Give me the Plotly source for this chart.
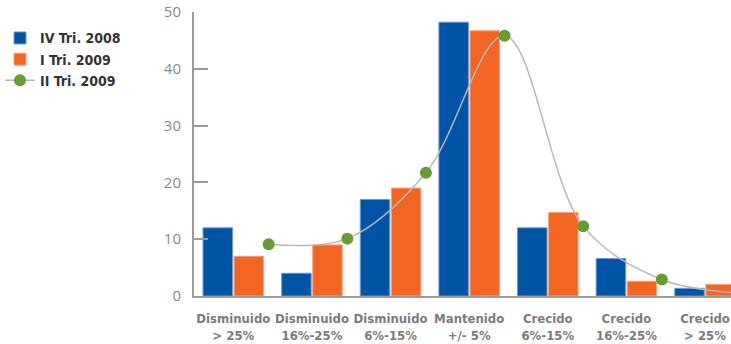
import numpy as np
import plotly.graph_objects as go

categories = ["Disminuido<br>> 25%", "Disminuido<br>16%-25%", "Disminuido<br>6%-15%",
              "Mantenido<br>+/- 5%", "Crecido<br>6%-15%", "Crecido<br>16%-25%", "Crecido<br>> 25%"]
iv_tri_2008 = [12, 4, 17, 48.2, 12, 6.6, 1.35]
i_tri_2009 = [7, 9, 19, 46.7, 14.7, 2.6, 2.05]
ii_tri_2009 = [9.1, 10.1, 21.7, 45.8, 12.3, 2.9, 0.5]
y_ticks = [0, 10, 20, 30, 40, 50]

pos = np.arange(len(categories))
line_offset = 0.45

COND = "Liberation Sans Narrow, DejaVu Sans Condensed, Arial Narrow, sans-serif"

fig = go.Figure()
fig.add_trace(go.Bar(x=pos, y=iv_tri_2008, name="IV Tri. 2008",
                     marker=dict(color="#0054a6", line=dict(color="#6d9bd1", width=1))))
fig.add_trace(go.Bar(x=pos, y=i_tri_2009, name="I Tri. 2009",
                     marker=dict(color="#f26522", line=dict(color="#f8a57c", width=1))))
fig.add_trace(go.Scatter(x=pos + line_offset, y=ii_tri_2009, name="II Tri. 2009",
                         mode="lines+markers", cliponaxis=False,
                         line=dict(color="#b8b8b8", width=1.5, shape="spline", smoothing=1),
                         marker=dict(color="#6a9b30", size=12)))

fig.update_layout(
    width=731, height=344,
    margin=dict(l=194, r=0, t=12, b=48),
    paper_bgcolor="white", plot_bgcolor="white",
    barmode="group", bargap=0.21, bargroupgap=0.05,
    showlegend=True,
    legend=dict(xref="container", yref="container", x=0.0, y=0.935,
                xanchor="left", yanchor="top",
                font=dict(family=COND, size=14, color="#333333", weight="bold"),
                tracegroupgap=0, itemwidth=30, bgcolor="rgba(0,0,0,0)"),
)
fig.update_xaxes(range=[-0.5, 6.33], tickmode="array", tickvals=pos, ticktext=categories,
                 showline=True, linecolor="#9a9a9a", linewidth=2, ticks="",
                 showgrid=False, zeroline=False, ticklabelstandoff=9, tickangle=0,
                 tickfont=dict(family=COND, size=13, color="#7b7b7b", weight="bold"))
fig.update_yaxes(range=[0, 50], tickvals=y_ticks, showgrid=False, zeroline=False,
                 showline=True, linecolor="#9a9a9a", linewidth=2,
                 ticks="inside", ticklen=14, tickwidth=2, tickcolor="#9a9a9a",
                 ticklabelstandoff=8,
                 tickfont=dict(family="Open Sans, DejaVu Sans, sans-serif", size=15, color="#8a8a8a"))

fig.write_html("out.html")
